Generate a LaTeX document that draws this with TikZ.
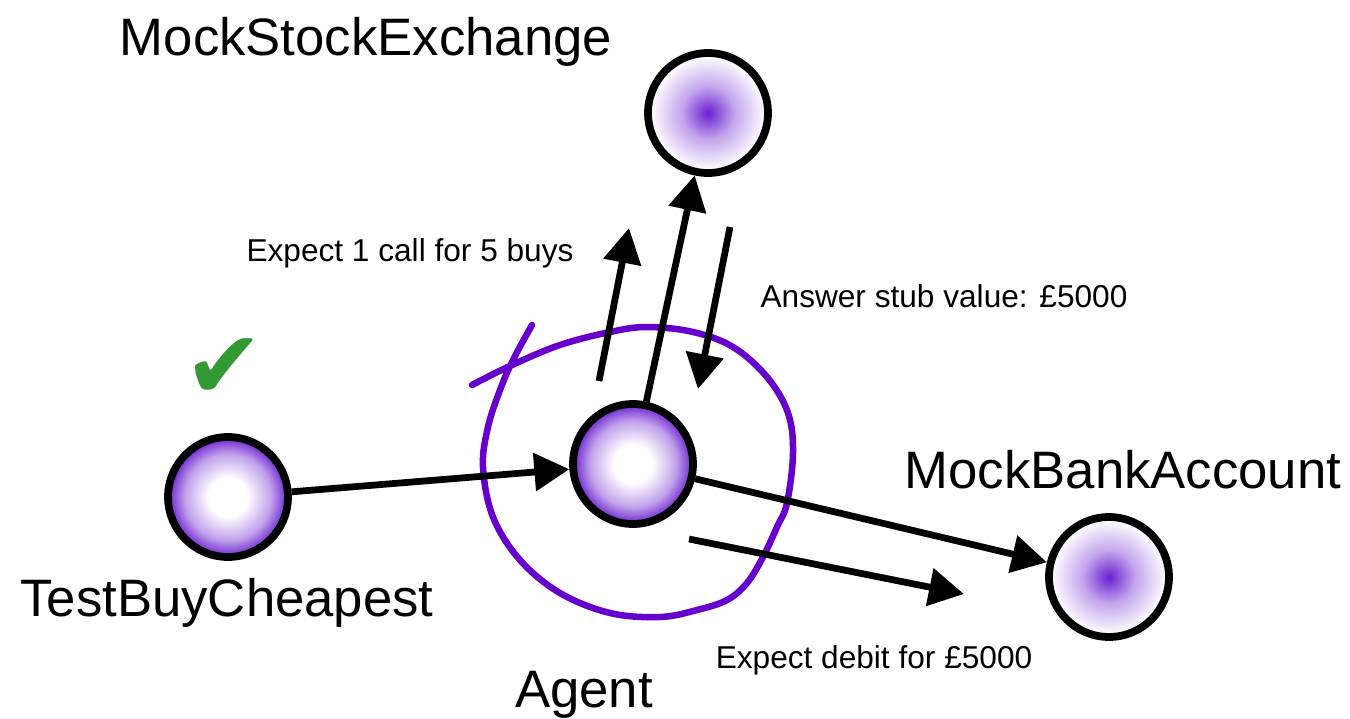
\documentclass[tikz,border=0pt]{standalone}
\usepackage{fontspec}
\setmainfont{Liberation Sans}
\newfontfamily\symfont{DejaVu Sans}
\usetikzlibrary{arrows.meta}
\definecolor{ballpurple}{HTML}{6A1FD0}
\definecolor{ringpurple}{HTML}{6600CC}
\definecolor{tickgreen}{HTML}{339933}
\colorlet{midpurple}{ballpurple!42!white}
\colorlet{palepurple}{ballpurple!40!white}
\pgfdeclareradialshading{hollowshade}{\pgfpoint{0bp}{0bp}}{color(0bp)=(white);
  color(8bp)=(white); color(18bp)=(midpurple); color(25bp)=(ballpurple);
  color(50bp)=(ballpurple)}
\pgfdeclareradialshading{filledshade}{\pgfpoint{0bp}{0bp}}{color(0bp)=(ballpurple);
  color(11bp)=(palepurple); color(24bp)=(white); color(50bp)=(white)}
\tikzset{
  ball/.style={circle, draw=black, line width=0.155cm, inner sep=0pt,
    minimum size=2.4cm},
  hollowball/.style={ball, shading=hollowshade},
  filledball/.style={ball, shading=filledshade},
  bigname/.style={font=\fontsize{30}{32}\selectfont, anchor=base},
  note/.style={font=\fontsize{18}{20}\selectfont, anchor=base},
  msg/.style={line width=0.135cm, -{Triangle[length=0.7cm, width=0.74cm]}}
}
\begin{document}
\begin{tikzpicture}[x=0.02cm, y=-0.02cm]
    \useasboundingbox (0,0) rectangle (1350,718);
    \node[hollowball] (test) at (228,497) {};
    \node[hollowball] (agent) at (633,464) {};
    \node[filledball] (stock) at (708,113) {};
    \node[filledball] (bank) at (1109,577) {};
    \node[bigname] (stockname) at (366,55) {MockStockExchange};
    \node[bigname] (bankname) at (1123,488) {MockBankAccount};
    \node[bigname] (testname) at (227,616) {TestBuyCheapest};
    \node[bigname] (agentname) at (584,707) {Agent};
    \node[note] (callnote) at (410,261) {Expect 1 call for 5 buys};
    \node[note] (stubnote) at (944,307) {Answer stub value: £5000};
    \node[note] (debitnote) at (874,668) {Expect debit for £5000};
    \node[tickgreen, font=\symfont\fontsize{54}{54}\selectfont]
      (tick) at (224,369) {✔};
    \draw[ringpurple, line width=0.13cm, line cap=round]
      plot[smooth, tension=0.6] coordinates {(472,385) (512,365) (560,345)
        (610,332) (647,327) (693,332) (733,347) (767,377) (788,413)
        (793,453) (787,503) (777,527) (763,557) (747,583) (727,600)
        (697,610) (660,617) (610,613) (560,593) (520,560) (493,517)
        (483,467) (488,427) (500,390) (513,360) (532,325)};
    \coordinate (calltail) at (599,381);
    \coordinate (callhead) at (629,228);
    \coordinate (stubtail) at (730,227);
    \coordinate (stubhead) at (698,389);
    \coordinate (debittail) at (689,539);
    \coordinate (debithead) at (964,594);
    \draw[msg] (test) -- (agent);
    \draw[msg] (agent) -- (stock);
    \draw[msg] (agent) -- (bank);
    \draw[msg] (calltail) -- (callhead);
    \draw[msg] (stubtail) -- (stubhead);
    \draw[msg] (debittail) -- (debithead);
  \end{tikzpicture}
\end{document}
